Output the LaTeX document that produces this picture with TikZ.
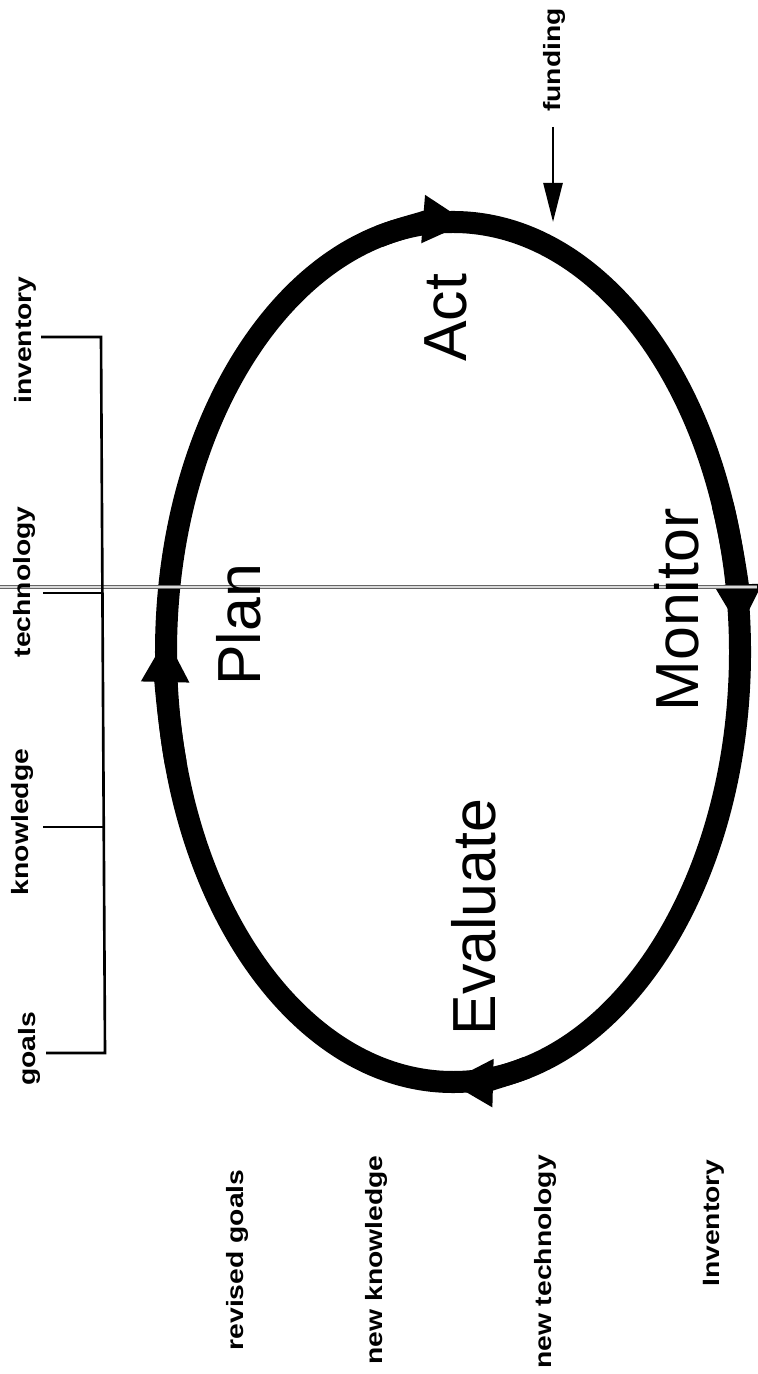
\documentclass[tikz,border=0pt]{standalone}
\usepackage{fontspec}
\usepackage{graphicx}
\setmainfont{Liberation Sans}
\usetikzlibrary{arrows.meta,calc}
\newcommand\widetext[1]{\scalebox{1.2}[1]{#1}}
\tikzset{
  biglabel/.style={font=\fontsize{17.3}{20}\selectfont, rotate=90, anchor=base, inner sep=0pt},
  smalllabel/.style={font=\bfseries\fontsize{6.7}{8}\selectfont, rotate=90, anchor=center, inner sep=0pt},
  loopline/.style={line width=0.22cm},
  looparrow/.style={line width=0.22cm, -{Triangle[length=0.45cm,width=0.45cm]}},
  thinline/.style={line width=0.75pt},
  thinarrow/.style={line width=0.75pt, -{Triangle[length=0.39cm,width=0.19cm]}},
  scanline/.style={draw=black!60, line width=0.35pt, double=black!15, double distance=0.6pt}
}
\begin{document}
\begin{tikzpicture}[x=0.01cm,y=0.01cm]
  \useasboundingbox (0,0) rectangle (757,-1374);
  % scan line
  \coordinate (sl) at (0,-587);
  \coordinate (sr) at (757,-587);
  % loop
  \coordinate (C) at (453,-652);
  \draw[loopline] (C) ellipse[x radius=287, y radius=430];
  \draw[looparrow] ($(C)+(105:287 and 430)$) arc[start angle=105, end angle=87, x radius=287, y radius=430];
  \draw[looparrow] ($(C)+(20:287 and 430)$) arc[start angle=20, end angle=3, x radius=287, y radius=430];
  \draw[looparrow] ($(C)+(-75:287 and 430)$) arc[start angle=-75, end angle=-91, x radius=287, y radius=430];
  \draw[looparrow] ($(C)+(-165:287 and 430)$) arc[start angle=-165, end angle=-182, x radius=287, y radius=430];
  \draw[scanline] (sl) -- (sr);
  % big labels
  \node[biglabel] (act) at (466,-318) {Act};
  \node[biglabel] (plan) at (260,-625) {Plan};
  \node[biglabel] (monitor) at (698,-610) {Monitor};
  \node[biglabel] (evaluate) at (495,-917) {Evaluate};
  % funding
  \node[smalllabel] (funding) at (554,-60) {\widetext{funding}};
  \coordinate (ftop) at (553,-127);
  \coordinate (ftip) at (553,-222);
  \draw[thinarrow] (ftop) -- (ftip);
  % bracket
  \node[smalllabel] (inv) at (25,-340) {\widetext{inventory}};
  \node[smalllabel] (tech) at (24,-582) {\widetext{technology}};
  \node[smalllabel] (know) at (22,-822) {\widetext{knowledge}};
  \node[smalllabel] (goals) at (29,-1049) {\widetext{goals}};
  \coordinate (ti) at (41,-337);
  \coordinate (bi) at (101,-337);
  \coordinate (tt) at (43,-593);
  \coordinate (bt) at (102,-593);
  \coordinate (tk) at (43,-827);
  \coordinate (bk) at (103,-827);
  \coordinate (tg) at (46,-1053);
  \coordinate (bg) at (105,-1053);
  \draw[thinline] (ti) -- (bi) -- (bg) -- (tg);
  \draw[thinline] (tt) -- (bt);
  \draw[thinline] (tk) -- (bk);
  % outputs
  \node[smalllabel] (rgoals) at (237,-1260) {\widetext{revised goals}};
  \node[smalllabel] (nknow) at (376,-1260) {\widetext{new knowledge}};
  \node[smalllabel] (ntech) at (545,-1262) {\widetext{new technology}};
  \node[smalllabel] (ninv) at (714,-1223) {\widetext{Inventory}};
\end{tikzpicture}
\end{document}
